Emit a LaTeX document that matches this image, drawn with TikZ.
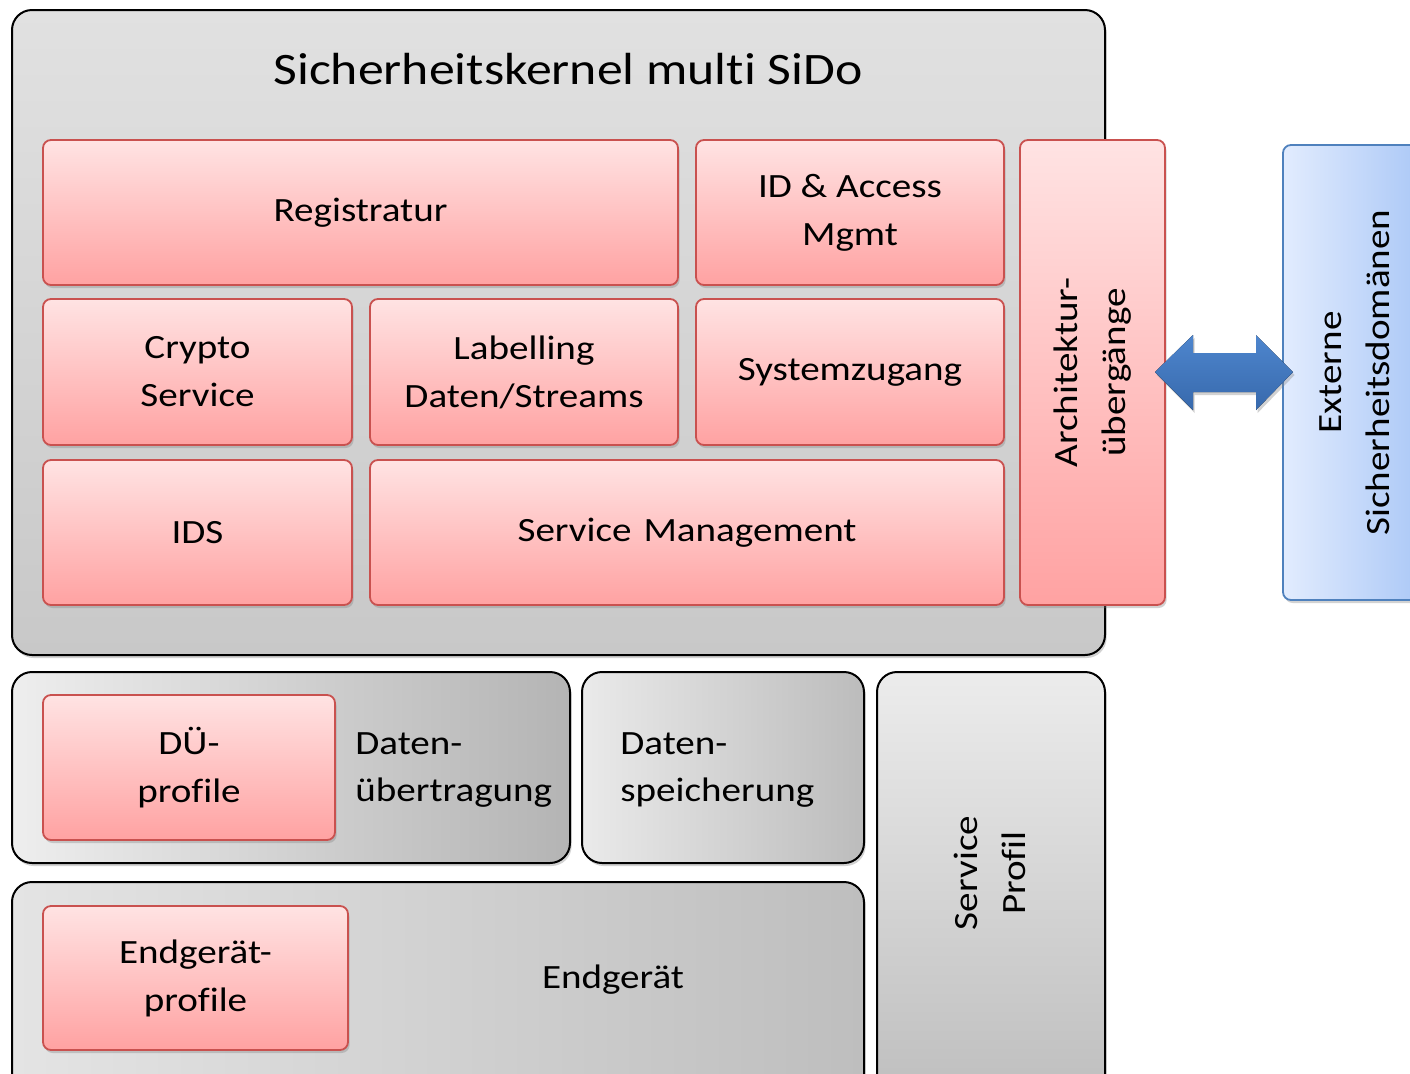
\documentclass[tikz,border=0pt]{standalone}
\usepackage{fontspec}
\setmainfont{Carlito}[FakeStretch=1.15,Ligatures={NoCommon,NoRare}]
\usetikzlibrary{shadows}
\definecolor{redtop}{HTML}{FFE3E3}
\definecolor{redbot}{HTML}{FFA2A2}
\definecolor{redline}{HTML}{C9514F}
\definecolor{bluetop}{HTML}{E2ECFE}
\definecolor{bluebot}{HTML}{A8C6F6}
\definecolor{blueline}{HTML}{4F81BD}
\definecolor{arrtop}{HTML}{4E86CE}
\definecolor{arrbot}{HTML}{3769AC}
\begin{document}
\begin{tikzpicture}[x=0.5pt,y=-0.5pt,
  shad/.style={drop shadow={shadow xshift=0.8pt,shadow yshift=-1.5pt,opacity=0.35}},
  redbox/.style={draw=redline,line width=0.9pt,rounded corners=4pt,top color=redtop,bottom color=redbot,
    shad,align=center,inner sep=0pt,font=\fontsize{17}{24}\selectfont},
  graybox/.style={draw=black,line width=1pt,rounded corners=10pt,shad,inner sep=0pt},
  bluebox/.style={draw=blueline,line width=0.9pt,rounded corners=4pt,left color=bluetop,right color=bluebot,
    shad,align=center,inner sep=0pt,font=\fontsize{17}{24}\selectfont},
  lbl/.style={align=center,inner sep=0pt,font=\fontsize{17}{24}\selectfont},
  lbll/.style={align=left,inner sep=0pt,anchor=west,font=\fontsize{17}{24}\selectfont}]
\clip (0,0) rectangle (1410,1073);
\fill[white] (0,0) rectangle (1410,1073);
% outer kernel box
\node[graybox,top color={rgb,255:red,225;green,225;blue,225},bottom color={rgb,255:red,200;green,200;blue,200},
  minimum width=546.5pt,minimum height=322.5pt] (kernel) at (558.5,332.5) {};
\node[lbl,font=\fontsize{22.5}{27}\selectfont] (title) at (568,69) {Sicherheitskernel multi SiDo};
% red boxes
\node[redbox,minimum width=317.5pt,minimum height=72.5pt] (reg) at (360.5,212.5) {Registratur};
\node[redbox,minimum width=154pt,minimum height=72.5pt] (idm) at (850,212.5) {ID \& Access\\Mgmt};
\node[redbox,minimum width=154.5pt,minimum height=73pt] (crypto) at (197.5,372) {Crypto\\Service};
\node[redbox,minimum width=154pt,minimum height=73pt] (label) at (524,372) {Labelling\\Daten/Streams};
\node[redbox,minimum width=154pt,minimum height=73pt] (sys) at (850,372) {Systemzugang};
\node[redbox,minimum width=154.5pt,minimum height=72.5pt] (ids) at (197.5,532.5) {IDS};
\node[redbox,minimum width=317pt,minimum height=72.5pt] (smgmt) at (687,532.5) {Service\hspace{0.35em}Management};
\node[redbox,minimum width=72.5pt,minimum height=232.5pt] (arch) at (1092.5,372.5) {};
\node[lbl,rotate=90] (archt) at (arch.center) {Architektur-\\übergänge};
% external
\node[bluebox,minimum width=73.5pt,minimum height=227.5pt] (ext) at (1356.5,372.5) {};
\node[lbl,rotate=90] (extt) at (1355,372.5) {Externe\\Sicherheitsdomänen};
% double arrow
\fill[top color=arrtop,bottom color=arrbot,shad]
  (1155,372) -- (1193,335) -- (1193,353) -- (1256,353) -- (1256,335) -- (1293,372)
  -- (1256,410) -- (1256,392) -- (1193,392) -- (1193,410) -- cycle;
% lower boxes
\node[graybox,left color={rgb,255:red,238;green,238;blue,238},right color={rgb,255:red,180;green,180;blue,180},
  minimum width=279pt,minimum height=95.5pt] (due) at (291,767.5) {};
\node[redbox,minimum width=146pt,minimum height=72.5pt] (dueprof) at (189,767.5) {DÜ-\\profile};
\node[lbll] (duet) at (355,770) {Daten-\\übertragung};
\node[graybox,left color={rgb,255:red,234;green,234;blue,234},right color={rgb,255:red,188;green,188;blue,188},
  minimum width=141pt,minimum height=95.5pt] (dsp) at (723,767.5) {};
\node[lbll] (dspt) at (620,770) {Daten-\\speicherung};
\node[graybox,left color={rgb,255:red,228;green,228;blue,228},right color={rgb,255:red,190;green,190;blue,190},
  minimum width=426pt,minimum height=109pt] (end) at (438,991) {};
\node[redbox,minimum width=152.5pt,minimum height=72pt] (endprof) at (195.5,978) {Endgerät-\\profile};
\node[lbl] (endt) at (613,980) {Endgerät};
\node[graybox,top color={rgb,255:red,236;green,236;blue,236},bottom color={rgb,255:red,190;green,190;blue,190},
  minimum width=114pt,minimum height=214pt] (sp) at (991,886) {};
\node[lbl,rotate=90] (spt) at (990,873) {Service\\Profil};
\end{tikzpicture}
\end{document}
